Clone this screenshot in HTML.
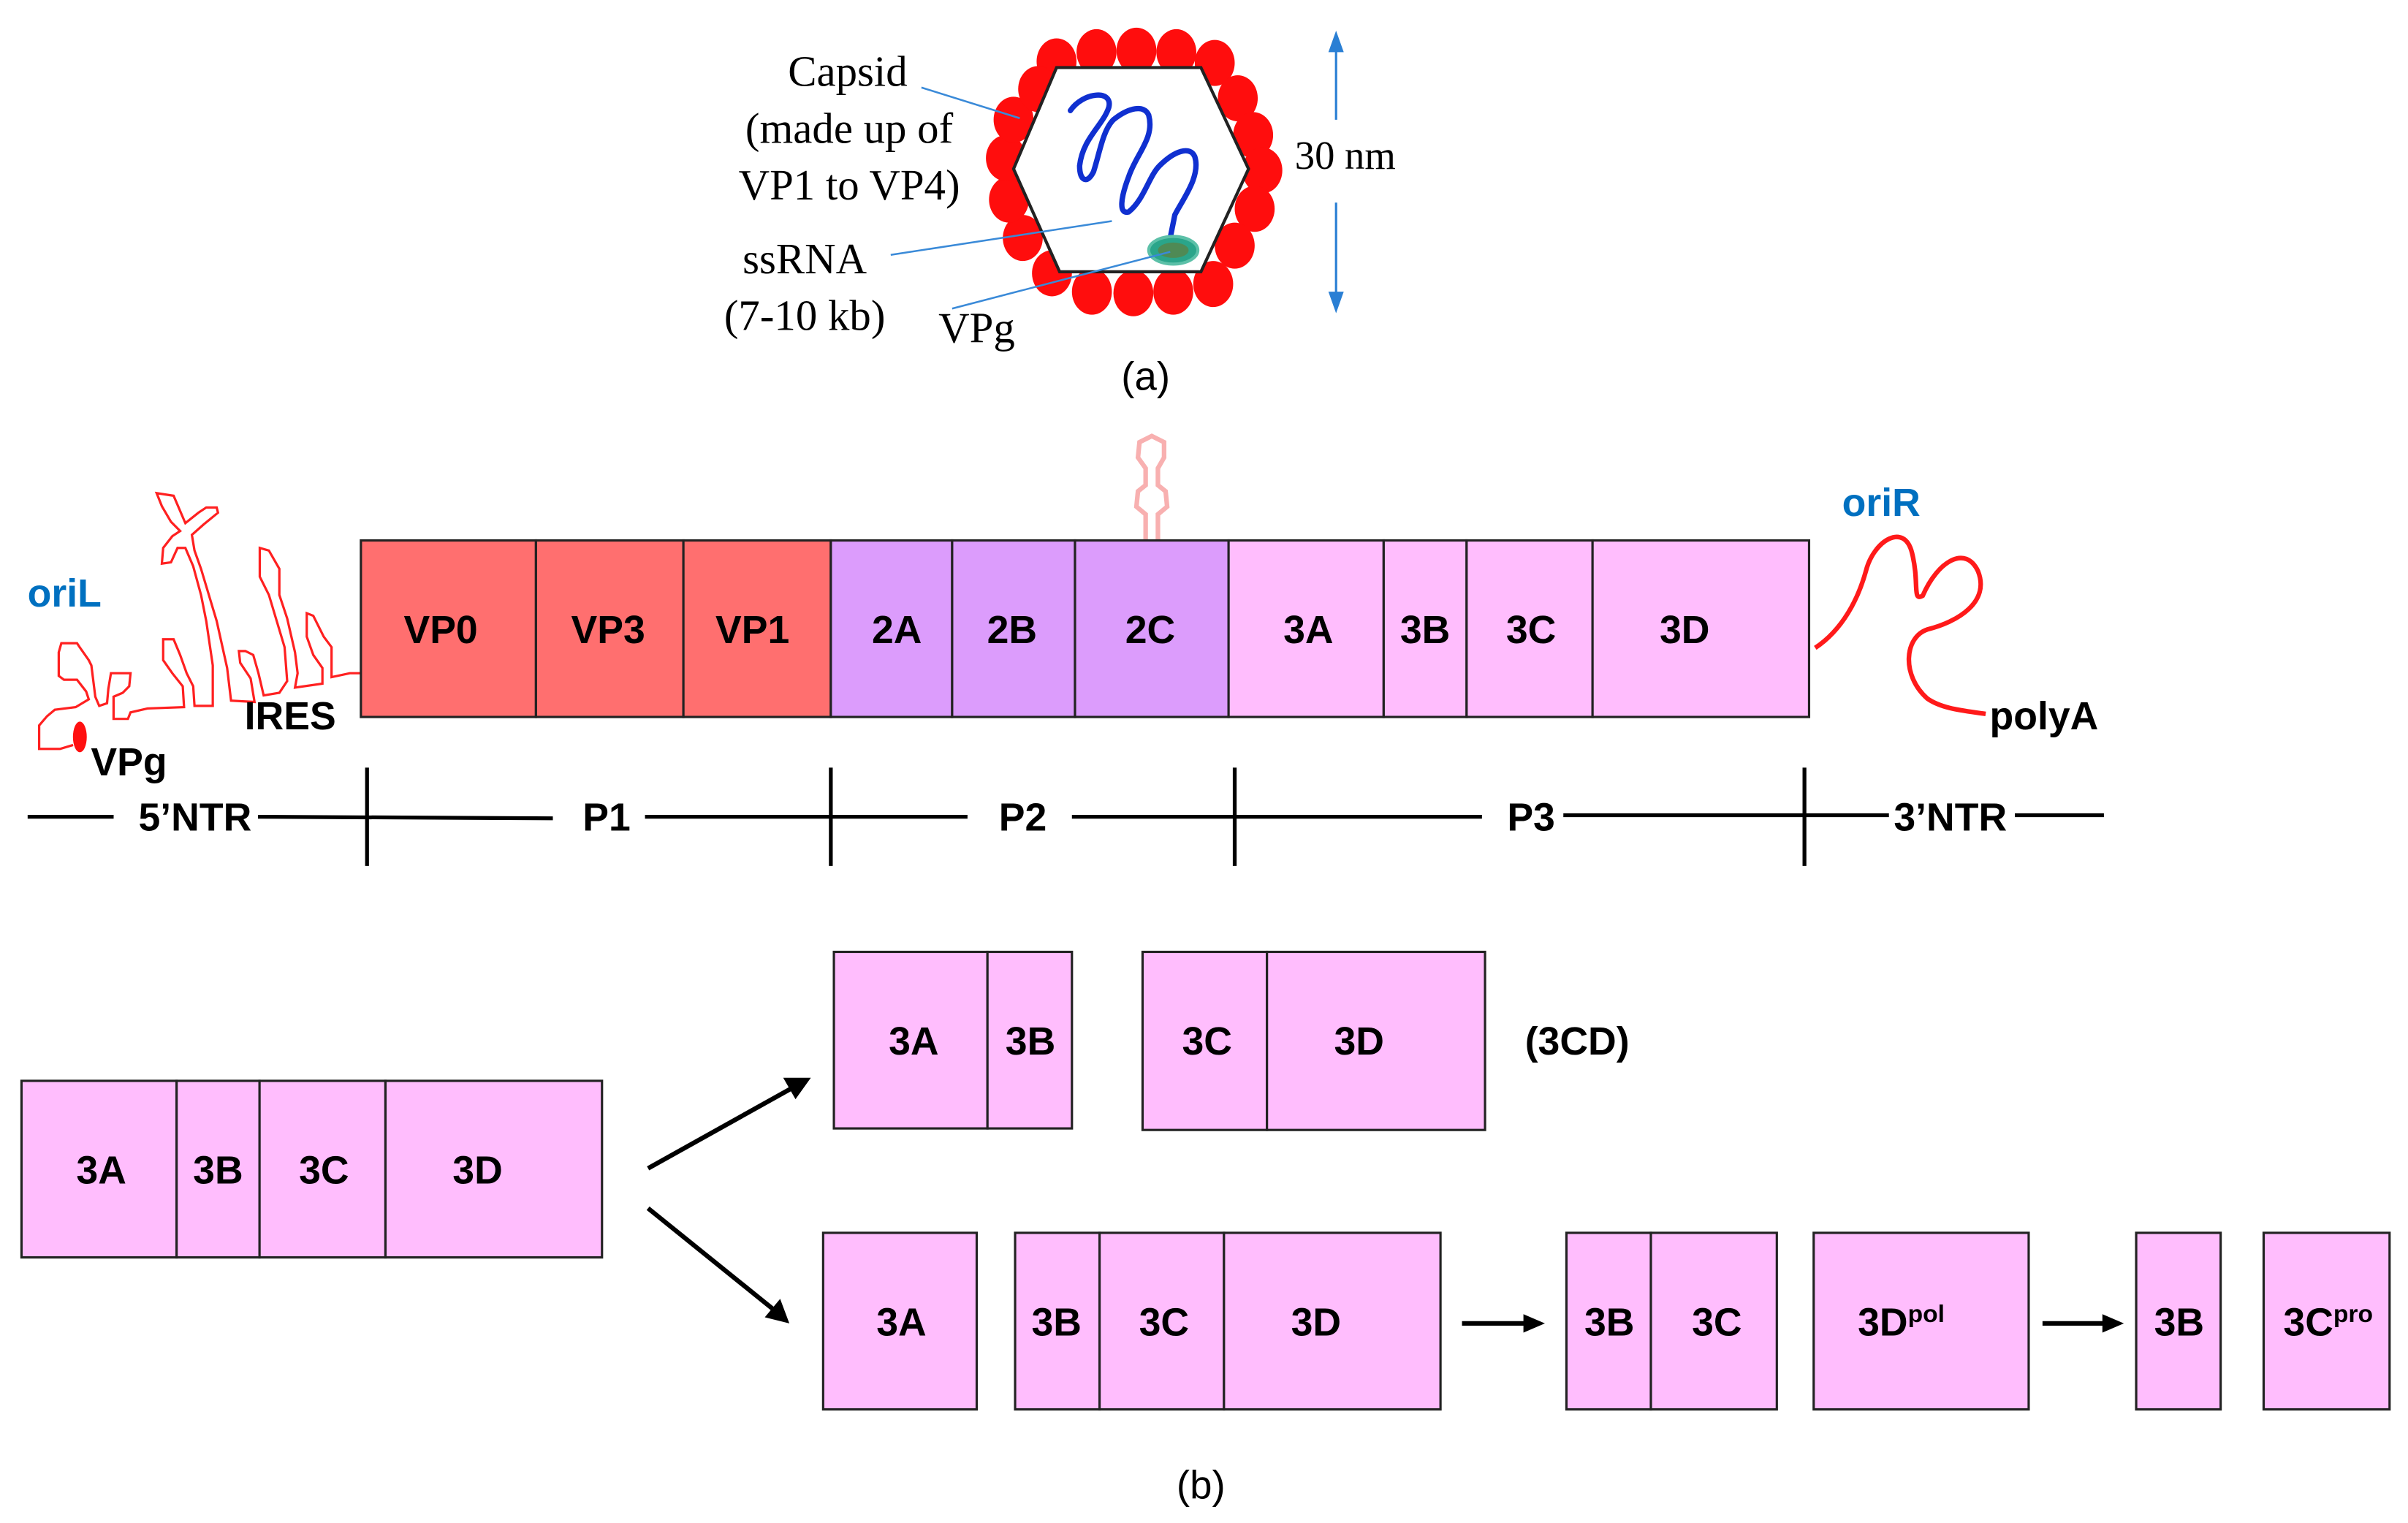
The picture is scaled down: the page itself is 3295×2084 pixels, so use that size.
<!DOCTYPE html>
<html><head><meta charset="utf-8"><style>
html,body{margin:0;padding:0;background:#fff;}
svg{display:block;}
.b{font-family:"Liberation Sans",Arial,sans-serif;font-weight:bold;font-size:25.5px;fill:#000;text-anchor:middle;}
.s{font-family:"Liberation Serif",serif;font-size:28px;fill:#000;text-anchor:middle;}
</style></head><body>
<svg width="3295" height="2084" viewBox="0 0 1568 992" preserveAspectRatio="none" xmlns="http://www.w3.org/2000/svg">
<rect width="1568" height="992" fill="#fff"/>
<!-- capsid -->
<g fill="#ff0d0d">
<ellipse cx="688" cy="40" rx="13" ry="15"/><ellipse cx="714" cy="34" rx="13" ry="15"/><ellipse cx="740" cy="33" rx="13" ry="15"/><ellipse cx="766" cy="34" rx="13" ry="15"/><ellipse cx="791" cy="41" rx="13" ry="15"/>
<ellipse cx="806" cy="64" rx="13" ry="15"/><ellipse cx="816" cy="88" rx="13" ry="15"/><ellipse cx="822" cy="111" rx="13" ry="15"/><ellipse cx="817" cy="136" rx="13" ry="15"/><ellipse cx="804" cy="160" rx="13" ry="15"/>
<ellipse cx="790" cy="185" rx="13" ry="15"/><ellipse cx="764" cy="190" rx="13" ry="15"/><ellipse cx="738" cy="191" rx="13" ry="15"/><ellipse cx="711" cy="190" rx="13" ry="15"/><ellipse cx="685" cy="178" rx="13" ry="15"/>
<ellipse cx="666" cy="155" rx="13" ry="15"/><ellipse cx="657" cy="130" rx="13" ry="15"/><ellipse cx="655" cy="103" rx="13" ry="15"/><ellipse cx="660" cy="78" rx="13" ry="15"/><ellipse cx="676" cy="58" rx="13" ry="15"/>
</g>
<polygon points="688,44 782,44 813,110 782,177 690,177 660,110" fill="#fff" stroke="#222" stroke-width="2"/>
<g fill="none" stroke="#1030d0" stroke-width="3.5" stroke-linecap="round">
<path d="M697,72 C705,60 725,58 722,70 C718,82 705,90 703,108 C703,118 708,120 712,112 C716,100 718,85 725,78 C735,70 745,68 748,75 C752,90 740,100 735,115 C730,128 728,140 735,138 C745,130 748,115 755,108 C765,98 775,95 778,102 C782,115 770,130 765,140 L762,155"/>
</g>
<ellipse cx="764" cy="163" rx="16" ry="9" fill="#2aa58a" stroke="#5cc0a8" stroke-width="2"/>
<ellipse cx="764" cy="163" rx="10" ry="5" fill="#4f8a55"/>
<g stroke="#3a8ad8" stroke-width="1.2">
<line x1="600" y1="57" x2="664" y2="77"/>
<line x1="580" y1="166" x2="724" y2="144"/>
<line x1="620" y1="201" x2="762" y2="164"/>
</g>
<text class="s" x="552" y="56">Capsid</text>
<text class="s" x="553" y="93">(made up of</text>
<text class="s" x="553" y="130">VP1 to VP4)</text>
<text class="s" x="524" y="178">ssRNA</text>
<text class="s" x="524" y="215">(7-10 kb)</text>
<text class="s" x="636" y="223">VPg</text>
<g stroke="#2a7fd4" stroke-width="1.5" fill="#2a7fd4">
<line x1="870" y1="32" x2="870" y2="78"/><line x1="870" y1="132" x2="870" y2="192"/>
<polygon points="865,34 875,34 870,20" stroke="none"/><polygon points="865,190 875,190 870,204" stroke="none"/>
</g>
<text class="s" x="876" y="110" style="font-size:26px">30 nm</text>
<text x="746" y="254" style="font-family:'Liberation Sans',sans-serif;font-size:26px;text-anchor:middle">(a)</text>

<!-- IRES -->
<path transform="translate(0,285.5) scale(0.17)" fill="none" stroke="#ff2020" stroke-width="9" d="M1380,900 L1340,900 L1270,915 L1270,800 L1240,760 L1200,680 L1175,670 L1175,760 L1200,830 L1235,880 L1235,940 L1130,955 L1140,900 L1130,820 L1100,690 L1070,600 L1070,500 L1030,430 L995,420 L995,530 L1030,600 L1060,700 L1090,800 L1100,930 L1070,975 L1010,985 L990,900 L970,830 L940,815 L915,815 L920,860 L960,920 L975,1010 L885,1005 L870,880 L830,700 L800,600 L770,500 L745,430 L735,370 L780,330 L835,285 L830,265 L790,265 L760,285 L710,325 L665,220 L600,210 L620,260 L655,320 L690,355 L660,375 L625,420 L620,480 L655,475 L680,420 L710,420 L740,490 L770,600 L790,700 L815,870 L815,1025 L745,1025 L740,950 L715,900 L690,830 L665,770 L625,770 L625,850 L660,900 L700,950 L705,1030 L565,1035 L500,1050 L490,1075 L435,1075 L435,990 L470,975 L495,950 L500,900 L425,900 L415,960 L410,1015 L380,1025 L365,990 L350,870 L340,850 L305,800 L295,785 L235,785 L225,820 L225,910 L245,925 L295,925 L330,970 L340,1000 L290,1030 L210,1040 L180,1065 L150,1100 L150,1190 L230,1190 L280,1175"/>
<ellipse cx="52" cy="480" rx="4.5" ry="10" fill="#ff1010"/>
<text class="b" x="42" y="395" style="fill:#0070c0">oriL</text>
<text class="b" x="84" y="505">VPg</text>
<text class="b" x="189" y="475">IRES</text>

<!-- pink stem loop -->
<path d="M746,352 L746,335 L740,330 L741,320 L746,316 L746,305 L741,298 L742,288 L750,284 L758,288 L758,298 L754,305 L754,316 L759,320 L760,330 L754,335 L754,352" fill="none" stroke="#f8b0b0" stroke-width="3"/>

<!-- genome bar -->
<g stroke="#222" stroke-width="1.5">
<rect x="235" y="352" width="114" height="115" fill="#ff6f6f"/>
<rect x="349" y="352" width="96" height="115" fill="#ff6f6f"/>
<rect x="445" y="352" width="96" height="115" fill="#ff6f6f"/>
<rect x="541" y="352" width="79" height="115" fill="#dc9cfc"/>
<rect x="620" y="352" width="80" height="115" fill="#dc9cfc"/>
<rect x="700" y="352" width="100" height="115" fill="#dc9cfc"/>
<rect x="800" y="352" width="101" height="115" fill="#ffbdfd"/>
<rect x="901" y="352" width="54" height="115" fill="#ffbdfd"/>
<rect x="955" y="352" width="82" height="115" fill="#ffbdfd"/>
<rect x="1037" y="352" width="141" height="115" fill="#ffbdfd"/>
</g>
<text class="b" x="287" y="419">VP0</text><text class="b" x="396" y="419">VP3</text><text class="b" x="490" y="419">VP1</text>
<text class="b" x="584" y="419">2A</text><text class="b" x="659" y="419">2B</text><text class="b" x="749" y="419">2C</text>
<text class="b" x="852" y="419">3A</text><text class="b" x="928" y="419">3B</text><text class="b" x="997" y="419">3C</text><text class="b" x="1097" y="419">3D</text>
<path d="M1182,422 C1200,410 1210,390 1215,372 C1220,352 1240,340 1245,360 C1250,380 1245,392 1252,388 C1262,365 1280,355 1288,372 C1296,392 1275,405 1255,410 C1240,415 1238,440 1255,455 C1265,462 1280,463 1293,465" fill="none" stroke="#ff1a1a" stroke-width="3"/>
<text class="b" x="1225" y="336" style="fill:#0070c0">oriR</text>
<text class="b" x="1331" y="475">polyA</text>

<!-- region line -->
<g stroke="#000" stroke-width="2.5">
<line x1="18" y1="532" x2="74" y2="532"/><line x1="168" y1="532" x2="360" y2="533"/><line x1="420" y1="532" x2="630" y2="532"/>
<line x1="698" y1="532" x2="965" y2="532"/><line x1="1018" y1="531" x2="1230" y2="531"/><line x1="1312" y1="531" x2="1370" y2="531"/>
<line x1="239" y1="500" x2="239" y2="564"/><line x1="541" y1="500" x2="541" y2="564"/><line x1="804" y1="500" x2="804" y2="564"/><line x1="1175" y1="500" x2="1175" y2="564"/>
</g>
<text class="b" x="127" y="541">5’NTR</text><text class="b" x="395" y="541">P1</text><text class="b" x="666" y="541">P2</text><text class="b" x="997" y="541">P3</text><text class="b" x="1270" y="541">3’NTR</text>

<!-- processing -->
<g stroke="#222" stroke-width="1.5" fill="#ffbdfd">
<rect x="14" y="704" width="101" height="115"/><rect x="115" y="704" width="54" height="115"/><rect x="169" y="704" width="82" height="115"/><rect x="251" y="704" width="141" height="115"/>
<rect x="543" y="620" width="100" height="115"/><rect x="643" y="620" width="55" height="115"/>
<rect x="744" y="620" width="81" height="116"/><rect x="825" y="620" width="142" height="116"/>
<rect x="536" y="803" width="100" height="115"/>
<rect x="661" y="803" width="55" height="115"/><rect x="716" y="803" width="81" height="115"/><rect x="797" y="803" width="141" height="115"/>
<rect x="1020" y="803" width="55" height="115"/><rect x="1075" y="803" width="82" height="115"/>
<rect x="1181" y="803" width="140" height="115"/>
<rect x="1391" y="803" width="55" height="115"/>
<rect x="1474" y="803" width="82" height="115"/>
</g>
<text class="b" x="66" y="771">3A</text><text class="b" x="142" y="771">3B</text><text class="b" x="211" y="771">3C</text><text class="b" x="311" y="771">3D</text>
<text class="b" x="595" y="687">3A</text><text class="b" x="671" y="687">3B</text><text class="b" x="786" y="687">3C</text><text class="b" x="885" y="687">3D</text>
<text class="b" x="1027" y="687">(3CD)</text>
<text class="b" x="587" y="870">3A</text><text class="b" x="688" y="870">3B</text><text class="b" x="758" y="870">3C</text><text class="b" x="857" y="870">3D</text>
<text class="b" x="1048" y="870">3B</text><text class="b" x="1118" y="870">3C</text>
<text class="b" x="1238" y="870">3D<tspan font-size="16" dy="-9">pol</tspan></text>
<text class="b" x="1419" y="870">3B</text>
<text class="b" x="1516" y="870">3C<tspan font-size="16" dy="-9">pro</tspan></text>
<g stroke="#000" stroke-width="3">
<line x1="422" y1="761" x2="517" y2="708"/><line x1="422" y1="787" x2="505" y2="854"/>
<line x1="952" y1="862" x2="993" y2="862"/><line x1="1330" y1="862" x2="1370" y2="862"/>
</g>
<g fill="#000">
<polygon points="528,702 510,702 518,716"/>
<polygon points="514,862 498,858 508,846"/>
<polygon points="1006,862 992,856 992,868"/>
<polygon points="1383,862 1369,856 1369,868"/>
</g>
<text x="782" y="976" style="font-family:'Liberation Sans',sans-serif;font-size:26px;text-anchor:middle">(b)</text>
</svg>
</body></html>
